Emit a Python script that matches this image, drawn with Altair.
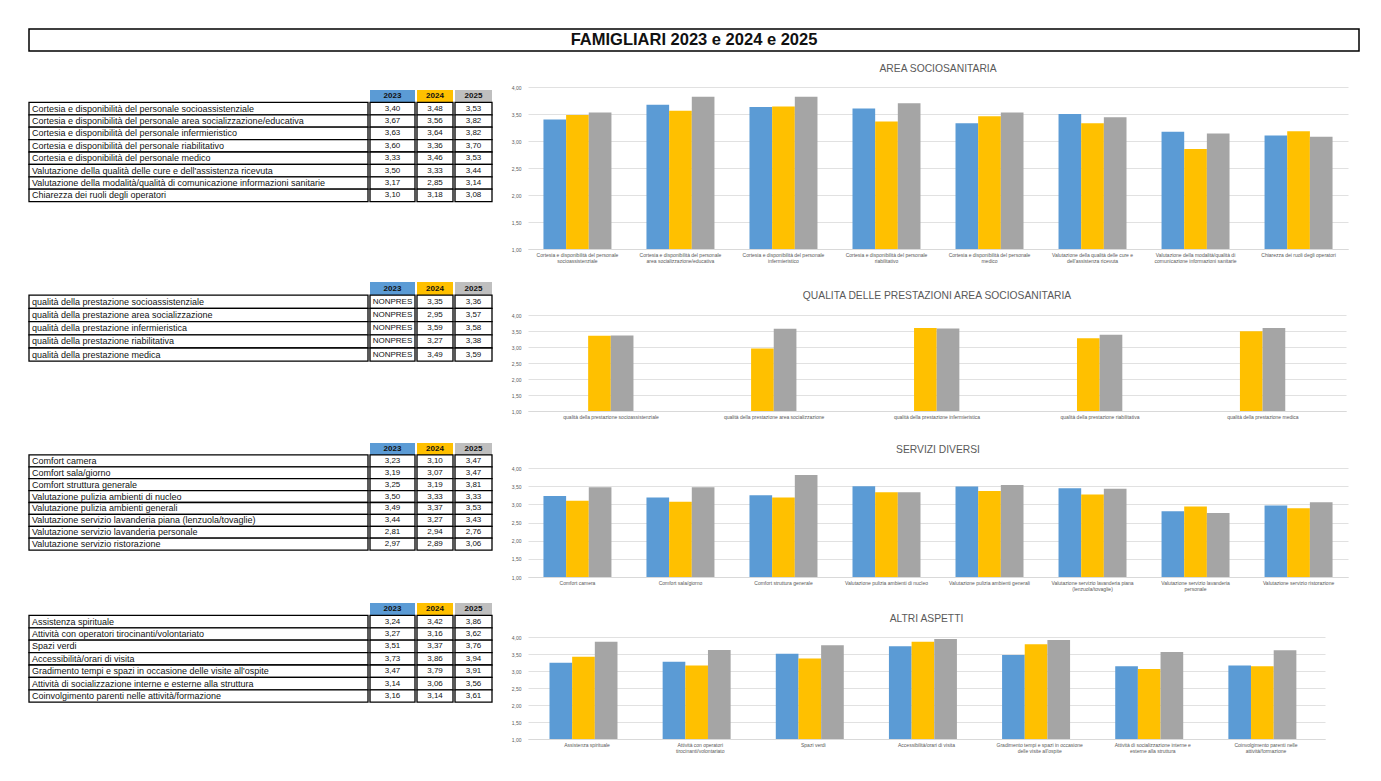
import altair as alt
import pandas as pd

MAIN_TITLE = "FAMIGLIARI 2023 e 2024 e 2025"
YEARS = ["2023", "2024", "2025"]
BAR_COLORS = ["#5B9BD5", "#FFC000", "#A5A5A5"]
HEAD_COLORS = ["#5B9BD5", "#FFC000", "#BFBFBF"]
FONT = "Liberation Sans"

# ---------------- AREA SOCIOSANITARIA ----------------
area_title = "AREA SOCIOSANITARIA"
area_labels = [
    "Cortesia e disponibilità del personale socioassistenziale",
    "Cortesia e disponibilità del personale area socializzazione/educativa",
    "Cortesia e disponibilità del personale infermieristico",
    "Cortesia e disponibilità del personale riabilitativo",
    "Cortesia e disponibilità del personale medico",
    "Valutazione della qualità delle cure e dell'assistenza ricevuta",
    "Valutazione della modalità/qualità di comunicazione informazioni sanitarie",
    "Chiarezza dei ruoli degli operatori",
]
area_2023 = [3.40, 3.67, 3.63, 3.60, 3.33, 3.50, 3.17, 3.10]
area_2024 = [3.48, 3.56, 3.64, 3.36, 3.46, 3.33, 2.85, 3.18]
area_2025 = [3.53, 3.82, 3.82, 3.70, 3.53, 3.44, 3.14, 3.08]

# ---------------- QUALITA DELLE PRESTAZIONI ----------------
qual_title = "QUALITA DELLE PRESTAZIONI AREA SOCIOSANITARIA"
qual_labels = [
    "qualità della prestazione socioassistenziale",
    "qualità della prestazione area socializzazione",
    "qualità della prestazione infermieristica",
    "qualità della prestazione riabilitativa",
    "qualità della prestazione medica",
]
qual_2023 = ["NONPRES", "NONPRES", "NONPRES", "NONPRES", "NONPRES"]
qual_2024 = [3.35, 2.95, 3.59, 3.27, 3.49]
qual_2025 = [3.36, 3.57, 3.58, 3.38, 3.59]

# ---------------- SERVIZI DIVERSI ----------------
serv_title = "SERVIZI DIVERSI"
serv_labels = [
    "Comfort camera",
    "Comfort sala/giorno",
    "Comfort struttura generale",
    "Valutazione pulizia ambienti di nucleo",
    "Valutazione pulizia ambienti generali",
    "Valutazione servizio lavanderia piana (lenzuola/tovaglie)",
    "Valutazione servizio lavanderia personale",
    "Valutazione servizio ristorazione",
]
serv_2023 = [3.23, 3.19, 3.25, 3.50, 3.49, 3.44, 2.81, 2.97]
serv_2024 = [3.10, 3.07, 3.19, 3.33, 3.37, 3.27, 2.94, 2.89]
serv_2025 = [3.47, 3.47, 3.81, 3.33, 3.53, 3.43, 2.76, 3.06]

# ---------------- ALTRI ASPETTI ----------------
altri_title = "ALTRI ASPETTI"
altri_labels = [
    "Assistenza spirituale",
    "Attività con operatori tirocinanti/volontariato",
    "Spazi verdi",
    "Accessibilità/orari di visita",
    "Gradimento tempi e spazi in occasione delle visite all'ospite",
    "Attività di socializzazione interne e esterne alla struttura",
    "Coinvolgimento parenti nelle attività/formazione",
]
altri_2023 = [3.24, 3.27, 3.51, 3.73, 3.47, 3.14, 3.16]
altri_2024 = [3.42, 3.16, 3.37, 3.86, 3.79, 3.06, 3.14]
altri_2025 = [3.86, 3.62, 3.76, 3.94, 3.91, 3.56, 3.61]

Y_TICKS = [1.0, 1.5, 2.0, 2.5, 3.0, 3.5, 4.0]


def fmt(v):
    if isinstance(v, str):
        return v
    return f"{v:.2f}".replace(".", ",")


def spacer(h):
    return (
        alt.Chart(pd.DataFrame({"s": [0]}))
        .mark_point(opacity=0, size=0)
        .properties(width=1, height=h)
    )


def table(labels, series, row_h, widths=(339, 45, 36, 37)):
    n = len(labels)
    H = row_h * (n + 1)
    yscale = alt.Scale(domain=list(range(0, n + 1)), paddingInner=0, paddingOuter=0)
    xscale = alt.Scale(paddingInner=0, paddingOuter=0)
    y = alt.Y("row:O", axis=None, scale=yscale)

    lab_df = pd.DataFrame({"row": list(range(1, n + 1)), "text": labels, "c": ["a"] * n})
    lab_base = alt.Chart(lab_df).encode(y=y)
    lab_rect = lab_base.mark_rect(fill="white", stroke="black", strokeWidth=1.3).encode(
        x=alt.X("c:N", axis=None, scale=xscale)
    )
    lab_text = lab_base.mark_text(align="left", dx=3, fontSize=9, font=FONT, color="#111111").encode(
        x=alt.X("c:N", axis=None, scale=xscale, bandPosition=0), text="text:N"
    )
    cols = [(lab_rect + lab_text).properties(width=widths[0], height=H)]

    for i, (yr, vals) in enumerate(zip(YEARS, series)):
        head_df = pd.DataFrame({"row": [0], "text": [yr], "c": ["a"]})
        cell_df = pd.DataFrame(
            {"row": list(range(1, n + 1)), "text": [fmt(v) for v in vals], "c": ["a"] * n}
        )
        x = alt.X("c:N", axis=None, scale=xscale)
        head_rect = alt.Chart(head_df).mark_rect(fill=HEAD_COLORS[i]).encode(x=x, y=y)
        head_text = alt.Chart(head_df).mark_text(
            fontSize=8, fontWeight="bold", font=FONT, color="#111111"
        ).encode(x=x, y=y, text="text:N")
        cell_rect = alt.Chart(cell_df).mark_rect(
            fill="white", stroke="black", strokeWidth=1.3
        ).encode(x=x, y=y)
        cell_text = alt.Chart(cell_df).mark_text(fontSize=8, font=FONT, color="#111111").encode(
            x=x, y=y, text="text:N"
        )
        cols.append(
            alt.layer(head_rect, cell_rect, head_text, cell_text).properties(
                width=widths[i + 1], height=H
            )
        )
    return alt.hconcat(*cols, spacing=0)


def wrap_expr(T):
    cut = f"lastindexof(substring(datum.label, 0, {T}), ' ')"
    return (
        f"length(datum.label) > {T} ? [substring(datum.label, 0, {cut}), "
        f"substring(datum.label, {cut} + 1)] : datum.label"
    )


def bars(title, labels, series, width, height, p_inner, p_outer, wrap, t_offset):
    rows = []
    for yr, vals in zip(YEARS, series):
        for lab, v in zip(labels, vals):
            if not isinstance(v, str):
                rows.append({"cat": lab, "year": yr, "val": v})
    df = pd.DataFrame(rows)
    return (
        alt.Chart(df)
        .mark_bar(clip=True)
        .encode(
            x=alt.X(
                "cat:N",
                sort=labels,
                scale=alt.Scale(paddingInner=p_inner, paddingOuter=p_outer),
                axis=alt.Axis(
                    title=None,
                    labelAngle=0,
                    labelFontSize=5,
                    labelFont=FONT,
                    labelColor="#595959",
                    labelLineHeight=6,
                    labelPadding=3,
                    labelOverlap=False,
                    labelLimit=300,
                    ticks=False,
                    domainColor="#d9d9d9",
                    labelExpr=wrap_expr(wrap),
                ),
            ),
            xOffset=alt.XOffset("year:N", sort=YEARS, scale=alt.Scale(paddingInner=0, paddingOuter=0)),
            y=alt.Y(
                "val:Q",
                scale=alt.Scale(domain=[1, 4], zero=False, nice=False, clamp=True),
                axis=alt.Axis(
                    title=None,
                    values=Y_TICKS,
                    labelExpr="replace(format(datum.value, '.2f'), '.', ',')",
                    labelFontSize=5,
                    labelFont=FONT,
                    labelColor="#595959",
                    labelPadding=7,
                    ticks=False,
                    domain=False,
                    gridColor="#d9d9d9",
                    gridWidth=0.8,
                ),
            ),
            color=alt.Color(
                "year:N", scale=alt.Scale(domain=YEARS, range=BAR_COLORS), legend=None
            ),
        )
        .properties(
            width=width,
            height=height,
            title=alt.TitleParams(
                title, fontSize=10.3, font=FONT, color="#595959", fontWeight="normal", offset=t_offset
            ),
        )
    )


title_df = pd.DataFrame({"t": [MAIN_TITLE], "k": ["a"]})
title_chart = (
    alt.Chart(title_df)
    .mark_text(fontSize=16.5, fontWeight="bold", font=FONT, color="#111111")
    .encode(x=alt.X("k:N", axis=None), y=alt.Y("k:N", axis=None), text="t:N")
    .properties(
        width=1330, height=22,
        view=alt.ViewBackground(stroke="black", strokeWidth=1.5),
    )
)

t1 = table(area_labels, [area_2023, area_2024, area_2025], 12.4)
t2 = table(qual_labels, [qual_2023, qual_2024, qual_2025], 13.2)
t3 = table(serv_labels, [serv_2023, serv_2024, serv_2025], 11.9)
t4 = table(altri_labels, [altri_2023, altri_2024, altri_2025], 12.4)

left = alt.vconcat(
    spacer(3), t1, spacer(79), t2, spacer(81), t3, spacer(52), t4, spacing=0
)

c1 = bars(area_title, area_labels, [area_2023, area_2024, area_2025], 820, 162, 0.34, 0.15, 40, 11)
c2 = bars(qual_title, qual_labels, [qual_2023, qual_2024, qual_2025], 818, 96, 0.44, 0.23, 60, 12)
c3 = bars(serv_title, serv_labels, [serv_2023, serv_2024, serv_2025], 820, 109, 0.34, 0.15, 40, 11)
c4 = bars(altri_title, altri_labels, [altri_2023, altri_2024, altri_2025], 797, 102, 0.336, 0.19, 40, 11)

right = alt.vconcat(c1, spacer(27), c2, spacer(25), c3, spacer(22), c4, spacing=0)

chart = (
    alt.vconcat(title_chart, alt.hconcat(left, right, spacing=18), spacing=11)
    .properties(padding={"left": 20, "top": 20, "right": 5, "bottom": 5}, background="white")
    .configure(font=FONT)
    .configure_view(stroke=None, strokeWidth=0)
)

chart.save("out.html", embed_options={"renderer": "svg", "actions": False})
